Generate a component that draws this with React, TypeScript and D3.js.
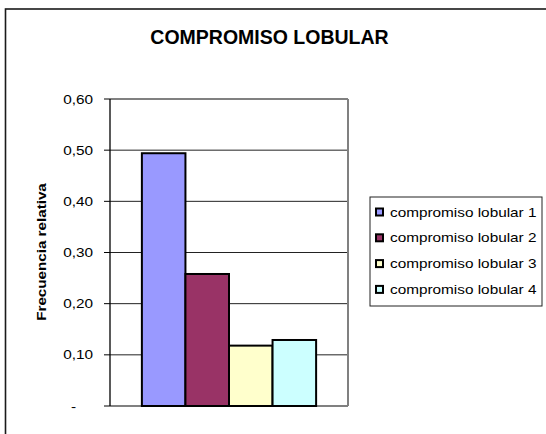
import React from "react";
import * as d3 from "d3";

const categories = ["compromiso lobular"];
const seriesNames = ["compromiso lobular 1", "compromiso lobular 2", "compromiso lobular 3", "compromiso lobular 4"];
const seriesValues = [0.494, 0.258, 0.118, 0.129];
const seriesColors = ["#9999FF", "#993366", "#FFFFCC", "#CCFFFF"];
const yTicks = [0, 0.1, 0.2, 0.3, 0.4, 0.5, 0.6];
const yTickLabels = ["-", "0,10", "0,20", "0,30", "0,40", "0,50", "0,60"];
const title = "COMPROMISO LOBULAR";
const yTitle = "Frecuencia relativa";

const FONT = "'Liberation Sans', Arial, Helvetica, sans-serif";
const SX = 1.18;

export default function App() {
  const left = 110, right = 348, top = 99, bottom = 406;
  const y = d3.scaleLinear().domain([0, 0.6]).range([bottom, top]);
  const x0 = d3.scaleBand().domain(categories).range([left, right]).paddingInner(0).paddingOuter(0.183);
  const x1 = d3.scaleBand().domain(seriesNames).range([0, x0.bandwidth()]);
  const legX = 370, legY = 197, legW = 172, legH = 109;
  const legStep = 25.8, legFirst = 212;

  return (
    <svg width={546} height={434} style={{ position: "absolute", left: 0, top: 0, background: "#fff" }}>
      <rect x={0} y={0} width={546} height={434} fill="#fff" />
      <rect x={5.5} y={9} width={600} height={500} fill="none" stroke="#1a1a1a" strokeWidth={1.6} />
      <text x={269.5} y={44} textAnchor="middle" fontFamily={FONT} fontWeight="bold" fontSize={19.5} fill="#000">
        {title}
      </text>
      {/* gridlines */}
      {yTicks.slice(1, -1).map((t) => (
        <line key={t} x1={left} x2={right} y1={y(t)} y2={y(t)} stroke="#222" strokeWidth={1} />
      ))}
      {/* plot frame top/right */}
      <line x1={left} x2={right} y1={top} y2={top} stroke="#808080" strokeWidth={2} />
      <line x1={right} x2={right} y1={top} y2={bottom} stroke="#808080" strokeWidth={2} />
      <line x1={left} x2={right} y1={bottom} y2={bottom} stroke="#808080" strokeWidth={2} />
      {/* bars */}
      {categories.map((c) =>
        seriesNames.map((s, i) => (
          <rect
            key={s}
            x={(x0(c) as number) + (x1(s) as number)}
            y={y(seriesValues[i])}
            width={x1.bandwidth()}
            height={y(0) - y(seriesValues[i])}
            fill={seriesColors[i]}
            stroke="#000"
            strokeWidth={2}
          />
        ))
      )}
      {/* y axis */}
      <line x1={left} x2={left} y1={top} y2={bottom} stroke="#000" strokeWidth={1.3} />
      {yTicks.map((t, i) => (
        <g key={t}>
          <line x1={left - 6} x2={left} y1={y(t)} y2={y(t)} stroke="#000" strokeWidth={1} />
          <text
            transform={`translate(${i === 0 ? 76 : 93},${y(t) + 4.6}) scale(${SX},1)`}
            textAnchor="end"
            fontFamily={FONT}
            fontSize={13}
            fill="#000"
          >
            {yTickLabels[i]}
          </text>
        </g>
      ))}
      <text
        transform={`translate(46,252) rotate(-90) scale(1.17,1)`}
        textAnchor="middle"
        fontFamily={FONT}
        fontWeight="bold"
        fontSize={13}
        fill="#000"
      >
        {yTitle}
      </text>
      {/* legend */}
      <rect x={legX} y={legY} width={legW} height={legH} fill="#fff" stroke="#222" strokeWidth={1} />
      {seriesNames.map((s, i) => {
        const cy = legFirst + i * legStep;
        return (
          <g key={s}>
            <rect x={376} y={cy - 3.5} width={7} height={7} fill={seriesColors[i]} stroke="#000" strokeWidth={2} />
            <text
              transform={`translate(390,${cy + 4.6}) scale(${SX},1)`}
              fontFamily={FONT}
              fontSize={13}
              fill="#000"
            >
              {s}
            </text>
          </g>
        );
      })}
    </svg>
  );
}
